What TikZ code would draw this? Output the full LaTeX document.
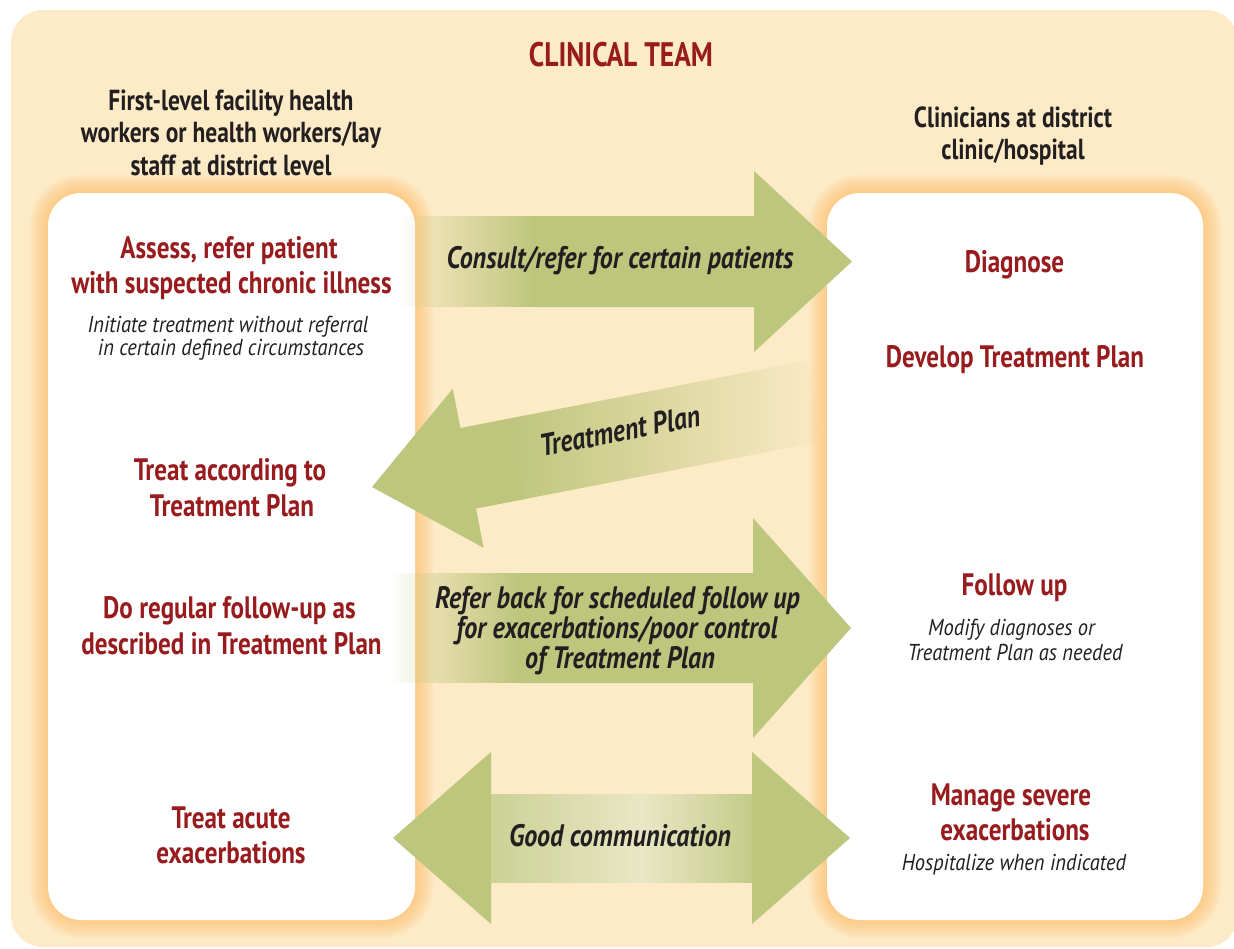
\documentclass[tikz,border=0pt]{standalone}
\usepackage{fontspec}
\setmainfont{PT Sans}[
  UprightFeatures={FakeStretch=0.81},
  BoldFeatures={FakeStretch=0.81},
  ItalicFeatures={FakeStretch=0.89},
  BoldItalicFeatures={FakeStretch=0.84}]
\usetikzlibrary{fadings}
\definecolor{bgc}{RGB}{253,234,198}
\definecolor{glowc}{RGB}{252,190,105}
\definecolor{redc}{RGB}{152,27,30}
\definecolor{greenc}{RGB}{189,198,125}
\definecolor{lightc}{RGB}{233,231,198}
\definecolor{txtc}{RGB}{35,31,32}
\tikzfading[name=fadein, left color=transparent!100, right color=transparent!0]
\tikzfading[name=fadeout, left color=transparent!0, right color=transparent!100]
\pgfdeclarehorizontalshading{goodcomm}{100bp}{color(0bp)=(greenc); color(11bp)=(greenc); color(54bp)=(lightc); color(79bp)=(greenc); color(100bp)=(greenc)}
\tikzset{
  redhd/.style={text=redc, font=\bfseries\fontsize{31}{33}\selectfont, anchor=base, inner sep=0pt},
  darkhd/.style={text=txtc, font=\bfseries\fontsize{29}{31}\selectfont, anchor=base, inner sep=0pt},
  titlehd/.style={text=redc, font=\bfseries\fontsize{34}{36}\selectfont, anchor=base, inner sep=0pt},
  note/.style={text=txtc, font=\itshape\fontsize{23}{25}\selectfont, anchor=base, inner sep=0pt},
  arrlbl/.style={text=txtc, font=\bfseries\itshape\fontsize{31}{33}\selectfont, anchor=base, inner sep=0pt},
  arrowfill/.style={fill=greenc, draw=none},
  whitebox/.style={fill=white, rounded corners=33pt},
  glowline/.style={draw=glowc, opacity=0.07, rounded corners=33pt},
}
\begin{document}
\begin{tikzpicture}[x=1pt,y=-1pt]
\useasboundingbox (0,0) rectangle (1234,948);
% background frame
\begin{scope}
  \clip (0,0) rectangle (1234,948);
  \fill[bgc, rounded corners=32pt] (11,10) rectangle (1238,947);
\end{scope}
% glows
\foreach \w in {3,6,...,36} {
  \path[glowline, line width=\w pt] (48,193) rectangle (415,920);
  \path[glowline, line width=\w pt] (827,193) rectangle (1203,920);
}
% white boxes
\path[whitebox] (48,193) rectangle (415,920);
\path[whitebox] (827,193) rectangle (1203,920);

% arrow 1: consult/refer
\fill[greenc, path fading=fadein] (400,216) rectangle (535,307);
\fill[arrowfill] (534,216) -- (754,216) -- (754,171) -- (852,261.5) -- (754,352) -- (754,307) -- (534,307) -- cycle;

% arrow 2: treatment plan (rotated, pointing left)
\begin{scope}[shift={(372,487)}, rotate=11]
  \fill[arrowfill] (0,0) -- (98,-81) -- (98,-41) -- (146,-41) -- (146,41) -- (98,41) -- (98,81) -- cycle;
  \fill[greenc, path fading=fadeout] (145,-41) rectangle (451,41);
  \node[arrlbl, anchor=center, rotate=11] (tplan) at (254,-8) {Treatment Plan};
\end{scope}

% arrow 3: refer back
\fill[greenc, path fading=fadein] (390,573) rectangle (520,683);
\fill[arrowfill] (519,573) -- (753,573) -- (753,518) -- (851,628) -- (753,738) -- (753,683) -- (519,683) -- cycle;

% arrow 4: good communication (double)
\fill[arrowfill] (393,838) -- (491,752) -- (491,794) -- (752,794) -- (752,752) -- (850,838) -- (752,924) -- (752,882) -- (491,882) -- (491,924) -- cycle;
\shade[shading=goodcomm] (491,794) rectangle (752,882);

% title and headers
\node[titlehd] (title) at (621,66) {CLINICAL TEAM};
\node[darkhd] (lh1) at (231,110) {First-level facility health};
\node[darkhd] (lh2) at (231,142) {workers or health workers/lay};
\node[darkhd] (lh3) at (231,175) {staff at district level};
\node[darkhd] (rh1) at (1013,127) {Clinicians at district};
\node[darkhd] (rh2) at (1013,159) {clinic/hospital};

% left box texts
\node[redhd] (a1) at (229,258) {Assess, refer patient};
\node[redhd] (a2) at (231.5,293) {with suspected chronic illness};
\node[note] (a3) at (228,332) {Initiate treatment without referral};
\node[note] (a4) at (231,355) {in certain defined circumstances};
\node[redhd] (b1) at (230,480) {Treat according to};
\node[redhd] (b2) at (232,516) {Treatment Plan};
\node[redhd] (c1) at (229.5,618) {Do regular follow-up as};
\node[redhd] (c2) at (231.5,654) {described in Treatment Plan};
\node[redhd] (d1) at (231,828) {Treat acute};
\node[redhd] (d2) at (231,863) {exacerbations};

% right box texts
\node[redhd] (e1) at (1014.5,272) {Diagnose};
\node[redhd] (e2) at (1015,367) {Develop Treatment Plan};
\node[redhd] (f1) at (1014.5,595) {Follow up};
\node[note] (f2) at (1011.5,635) {Modify diagnoses or};
\node[note] (f3) at (1015,660) {Treatment Plan as needed};
\node[redhd] (g1) at (1011,805) {Manage severe};
\node[redhd] (g2) at (1015,840) {exacerbations};
\node[note] (g3) at (1014,870) {Hospitalize when indicated};

% arrow labels
\node[arrlbl] (consult) at (620,268) {Consult/refer for certain patients};
\node[arrlbl] (rb1) at (617.5,608) {Refer back for scheduled follow up};
\node[arrlbl] (rb2) at (617,638) {for exacerbations/poor control};
\node[arrlbl] (rb3) at (620,668) {of Treatment Plan};
\node[arrlbl] (goodc) at (620,846) {Good communication};
\end{tikzpicture}
\end{document}
